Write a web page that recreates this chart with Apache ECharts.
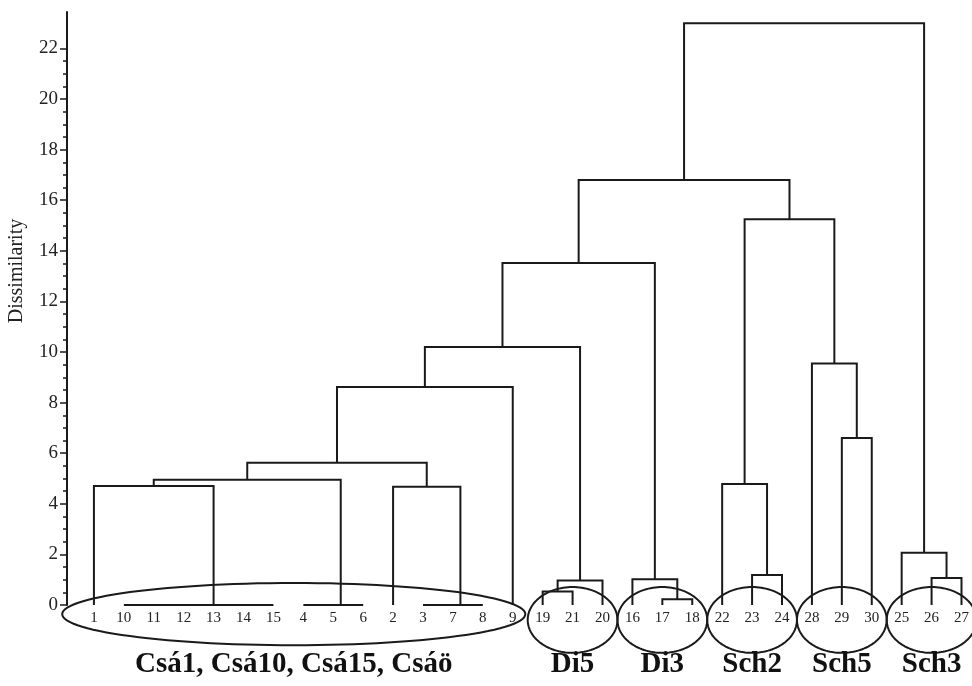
<!DOCTYPE html>
<html><head><meta charset="utf-8">
<script src="https://cdn.jsdelivr.net/npm/echarts@6/dist/echarts.min.js"></script>
<style>html,body{margin:0;padding:0;background:#fff}#c{width:972px;height:686px}</style>
</head><body><div id="c"></div>
<script>
// ---- data ----
const leafLabels = ['1','10','11','12','13','14','15','4','5','6','2','3','7','8','9',
  '19','21','20','16','17','18','22','23','24','28','29','30','25','26','27'];
// merges: child A, child B (leaf label or '#k' = k-th merge), height
const mergeA = ['10','12','#0','14','#2','1','4','#6','#5','3','#9','2','#8','#12',
  '19','#14','#13','17','16','#16','23','22','29','28','#21','#19','26','25','#25'];
const mergeB = ['11','13','#1','15','#3','#4','5','6','#7','7','8','#10','#11','9',
  '21','20','#15','18','#17','#18','24','#20','30','#22','#23','#24','27','#26','#27'];
const mergeHeight = [0,0,0,0,0,4.70,0,0,4.95,0,0,4.67,5.62,8.62,
  0.53,0.97,10.2,0.23,1.02,13.52,1.19,4.78,6.6,9.55,15.25,16.8,1.07,2.07,23.0];
const yTicks = [0,2,4,6,8,10,12,14,16,18,20,22];
const yMinorTicks = [0.5,1,1.5,2.5,3,3.5,4.5,5,5.5,6.5,7,7.5,8.5,9,9.5,10.5,11,11.5,
  12.5,13,13.5,14.5,15,15.5,16.5,17,17.5,18.5,19,19.5,20.5,21,21.5];
const groupNames = ['Csá1, Csá10, Csá15, Csáö','Di5','Di3','Sch2','Sch5','Sch3'];
const groupFirstLeaf = ['1','19','16','22','28','25'];
const groupLastLeaf = ['9','20','18','24','30','27'];
const axisTitle = 'Dissimilarity';

// ---- styling (not data) ----
const ellipsePadLeft  = [1.06,0.5,0.5,0.5,0.5,0.5];
const ellipsePadRight = [0.42,0.5,0.5,0.5,0.5,0.5];
const ellipseCy = [-0.36,-0.59,-0.59,-0.59,-0.59,-0.59];
const ellipseRy = [1.23,1.3,1.3,1.3,1.3,1.3];
const groupLabelY = -2.37;
const INK = '#1a1a1a';
const SERIF = '"Liberation Serif","DejaVu Serif",serif';
const GRID = {left: 67, right: 0, top: 12, bottom: 81, containLabel: false};
const X_RANGE = [-0.9, 29.17];
const Y_RANGE = [0, 23.44];

// ---- build dendrogram links from merge structure ----
const pos = {}, hgt = {};
leafLabels.forEach((l, i) => { pos[l] = i; hgt[l] = 0; });
const links = [];
mergeA.forEach((a, k) => {
  const b = mergeB[k], h = mergeHeight[k];
  links.push([pos[a], hgt[a], pos[b], hgt[b], h]);
  pos['#' + k] = (pos[a] + pos[b]) / 2;
  hgt['#' + k] = h;
});
const groups = groupNames.map((n, i) => {
  const f = pos[groupFirstLeaf[i]], l = pos[groupLastLeaf[i]];
  const left = f - ellipsePadLeft[i], right = l + ellipsePadRight[i];
  return [(left + right) / 2, ellipseCy[i], (right - left) / 2, ellipseRy[i], i];
});

const chart = echarts.init(document.getElementById('c'), null, {renderer: 'canvas'});
const leafIdx = leafLabels.map((_, i) => i);
chart.setOption({
  animation: false,
  backgroundColor: '#fff',
  grid: [Object.assign({}, GRID), Object.assign({}, GRID)],
  xAxis: [{
    type: 'value', gridIndex: 0, min: X_RANGE[0], max: X_RANGE[1],
    axisLine: {show: false, onZero: false}, axisTick: {show: false}, splitLine: {show: false},
    axisLabel: {customValues: leafIdx, formatter: v => leafLabels[Math.round(v)],
      fontFamily: SERIF, fontSize: 15, color: '#222', margin: 6}
  }, {
    type: 'value', gridIndex: 1, min: X_RANGE[0], max: X_RANGE[1], show: false
  }],
  yAxis: [{
    type: 'value', gridIndex: 0, min: Y_RANGE[0], max: Y_RANGE[1], position: 'left',
    axisLine: {show: true, onZero: false, lineStyle: {color: INK, width: 2}},
    axisTick: {show: true, customValues: yTicks, length: 7, lineStyle: {color: INK, width: 1.5}},
    axisLabel: {customValues: yTicks, fontFamily: SERIF, fontSize: 19, color: '#222', margin: 9},
    splitLine: {show: false}
  }, {
    type: 'value', gridIndex: 1, min: Y_RANGE[0], max: Y_RANGE[1], position: 'left',
    axisLine: {show: false, onZero: false},
    axisTick: {show: true, customValues: yMinorTicks, length: 4, lineStyle: {color: INK, width: 1.5}},
    axisLabel: {show: false}, splitLine: {show: false}
  }],
  graphic: [{
    type: 'text', x: 17, y: 271, rotation: Math.PI / 2,
    style: {text: axisTitle, fontFamily: SERIF, fontSize: 20, fill: '#222', align: 'center', verticalAlign: 'middle'}
  }],
  series: [{
    type: 'custom', clip: false, silent: true, xAxisIndex: 0, yAxisIndex: 0,
    encode: {x: [0, 2], y: [1, 3, 4]},
    data: links,
    renderItem: (params, api) => {
      const xa = api.value(0), ha = api.value(1), xb = api.value(2), hb = api.value(3), h = api.value(4);
      return {
        type: 'polyline',
        shape: {points: [api.coord([xa, ha]), api.coord([xa, h]), api.coord([xb, h]), api.coord([xb, hb])]},
        style: {stroke: INK, lineWidth: 2, fill: 'none'}
      };
    }
  }, {
    type: 'custom', clip: false, silent: true, xAxisIndex: 0, yAxisIndex: 0,
    encode: {x: 0, y: 1},
    data: groups,
    renderItem: (params, api) => {
      const cx = api.value(0), cy = api.value(1), rx = api.value(2), ry = api.value(3), gi = api.value(4);
      const c = api.coord([cx, cy]);
      const rxp = api.size([rx, 0])[0], ryp = api.size([0, ry])[1];
      const pts = [];
      for (let t = 0; t < 120; t++) {
        const a = t / 120 * Math.PI * 2;
        pts.push([c[0] + rxp * Math.cos(a), c[1] + ryp * Math.sin(a)]);
      }
      const lp = api.coord([cx, groupLabelY]);
      return {
        type: 'group',
        children: [{
          type: 'polygon', shape: {points: pts},
          style: {stroke: INK, lineWidth: 2, fill: 'none'}
        }, {
          type: 'text', x: lp[0], y: lp[1],
          style: {text: groupNames[gi], fontFamily: SERIF, fontWeight: 'bold', fontSize: 29,
            fill: '#111', align: 'center', verticalAlign: 'middle'}
        }]
      };
    }
  }]
});
</script></body></html>
